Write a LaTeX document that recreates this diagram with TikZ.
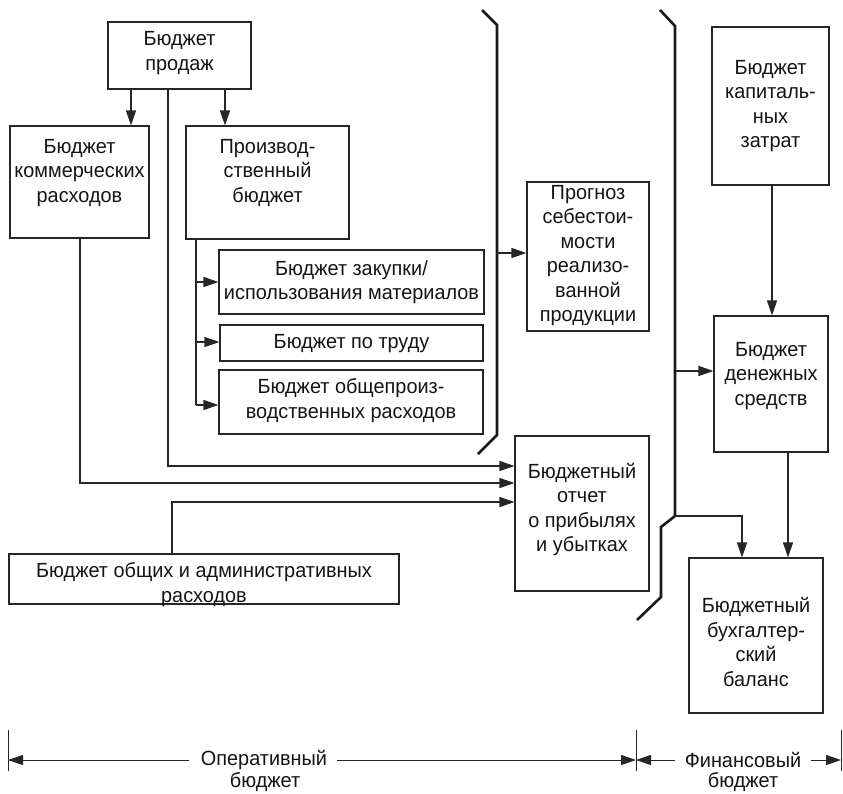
\documentclass[tikz,border=0pt]{standalone}
\usepackage{fontspec}
\setmainfont[FakeStretch=0.97]{Liberation Sans}
\usetikzlibrary{arrows.meta}
\begin{document}
\begin{tikzpicture}[x=1pt,y=-1pt,
  box/.style={draw=black!85, line width=1.1pt, inner sep=0pt},
  lbl/.style={align=center, font=\fontsize{20.5}{24.5}\selectfont, inner sep=0pt, text=black!92},
  link/.style={line width=1.1pt, draw=black!85},
  arr/.style={link, -{Triangle[length=15pt,width=10pt]}},
  brk/.style={line width=2.6pt, draw=black!90, line join=miter},
  tick/.style={line width=0.9pt, draw=black!85},
]
\useasboundingbox (0,0) rectangle (843,793);

% ---- boxes ----
\node[box, minimum width=143pt, minimum height=67pt]  (sales) at (179.5,55.5) {};
\node[lbl] (salesT) at (179.5,53) {Бюджет\\продаж};

\node[box, minimum width=139pt, minimum height=112pt] (comm) at (79.5,182) {};
\node[lbl] (commT) at (79.5,173) {Бюджет\\коммерческих\\расходов};

\node[box, minimum width=163pt, minimum height=113pt] (prod) at (267.5,182.5) {};
\node[lbl] (prodT) at (267.5,172.5) {Производ-\\ственный\\бюджет};

\node[box, minimum width=265pt, minimum height=64pt]  (zak) at (351.5,282) {};
\node[lbl] (zakT) at (351.5,282) {Бюджет закупки/\\использования материалов};

\node[box, minimum width=263pt, minimum height=36pt]  (trud) at (351.5,343) {};
\node[lbl] (trudT) at (351.5,344) {Бюджет по труду};

\node[box, minimum width=264pt, minimum height=64pt]  (obsh) at (351,402) {};
\node[lbl] (obshT) at (351,400.5) {Бюджет общепроиз-\\водственных расходов};

\node[box, minimum width=122pt, minimum height=149pt] (progn) at (588,256.5) {};
\node[lbl] (prognT) at (588,255.5) {Прогноз\\себестои-\\мости\\реализо-\\ванной\\продукции};

\node[box, minimum width=134pt, minimum height=155pt] (otch) at (582,513.5) {};
\node[lbl] (otchT) at (582,509.5) {Бюджетный\\отчет\\о прибылях\\и убытках};

\node[box, minimum width=390pt, minimum height=50pt]  (adm) at (204,579) {};
\node[lbl] (admT) at (204,584.5) {Бюджет общих и административных\\расходов};

\node[box, minimum width=117pt, minimum height=158pt] (kap) at (770.5,106) {};
\node[lbl] (kapT) at (770.5,106) {Бюджет\\капиталь-\\ных\\затрат};

\node[box, minimum width=114pt, minimum height=136pt] (den) at (771,384) {};
\node[lbl] (denT) at (771,376) {Бюджет\\денежных\\средств};

\node[box, minimum width=134pt, minimum height=155pt] (buh) at (756,635.5) {};
\node[lbl] (buhT) at (756,642) {Бюджетный\\бухгалтер-\\ский\\баланс};

% ---- brackets separating the budget zones ----
\coordinate (b1a) at (482,10);  \coordinate (b1b) at (497,25);
\coordinate (b1c) at (497,435); \coordinate (b1d) at (478,454);
\draw[brk] (b1a) -- (b1b) -- (b1c) -- (b1d);

\coordinate (b2a) at (660,10);  \coordinate (b2b) at (675,26);
\coordinate (b2c) at (675,516); \coordinate (b2d) at (661,527);
\coordinate (b2e) at (661,597); \coordinate (b2f) at (637,620);
\draw[brk] (b2a) -- (b2b) -- (b2c) -- (b2d) -- (b2e) -- (b2f);

% ---- connectors ----
\draw[arr] (sales.south -| 131,0) -- (comm.north -| 131,0);
\draw[arr] (sales.south -| 225,0) -- (prod.north -| 225,0);

\draw[arr] (sales.south -| 168,0) -- (168,466) -- (otch.west |- 0,466);
\draw[arr] (comm.south -| 80,0) -- (80,483) -- (otch.west |- 0,483);
\draw[arr] (adm.north -| 172,0) -- (172,502) -- (otch.west |- 0,502);

\coordinate (pb) at (196,405);
\draw[link] (prod.south -| 196,0) -- (pb);
\draw[arr] (196,282) -- (zak.west |- 0,282);
\draw[arr] (196,342) -- (trud.west |- 0,342);
\draw[arr] (pb) -- (obsh.west |- pb);

\coordinate (b1p) at (497,253);
\draw[arr] (b1p) -- (progn.west |- b1p);

\coordinate (b2p) at (675,371);
\draw[arr] (b2p) -- (den.west |- b2p);
\draw[arr] (kap.south -| 772,0) -- (den.north -| 772,0);
\draw[arr] (den.south -| 788,0) -- (buh.north -| 788,0);
\coordinate (b2q) at (675,516);
\draw[arr] (b2q) -- (742,516) -- (buh.north -| 742,0);

% ---- zone dimension lines ----
\coordinate (t1a) at (8,730);   \coordinate (t1b) at (8,771);
\coordinate (t2a) at (636,730); \coordinate (t2b) at (636,771);
\coordinate (t3a) at (841,730); \coordinate (t3b) at (841,771);
\draw[tick] (t1a) -- (t1b);
\draw[tick] (t2a) -- (t2b);
\draw[tick] (t3a) -- (t3b);

\node[lbl] (op)  at (264,760) {Оперативный};
\node[lbl] (opb) at (265,782) {бюджет};
\node[lbl] (fin)  at (743,760) {Финансовый};
\node[lbl] (finb) at (743,782) {бюджет};

\draw[arr, line width=0.9pt] ([xshift=-12pt]op.west)  -- (t1a |- op.west);
\draw[arr, line width=0.9pt] ([xshift=10pt]op.east)   -- (t2a |- op.east);
\draw[arr, line width=0.9pt] ([xshift=-10pt]fin.west) -- (t2a |- fin.west);
\draw[arr, line width=0.9pt] ([xshift=10pt]fin.east)  -- (t3a |- fin.east);
\end{tikzpicture}
\end{document}
